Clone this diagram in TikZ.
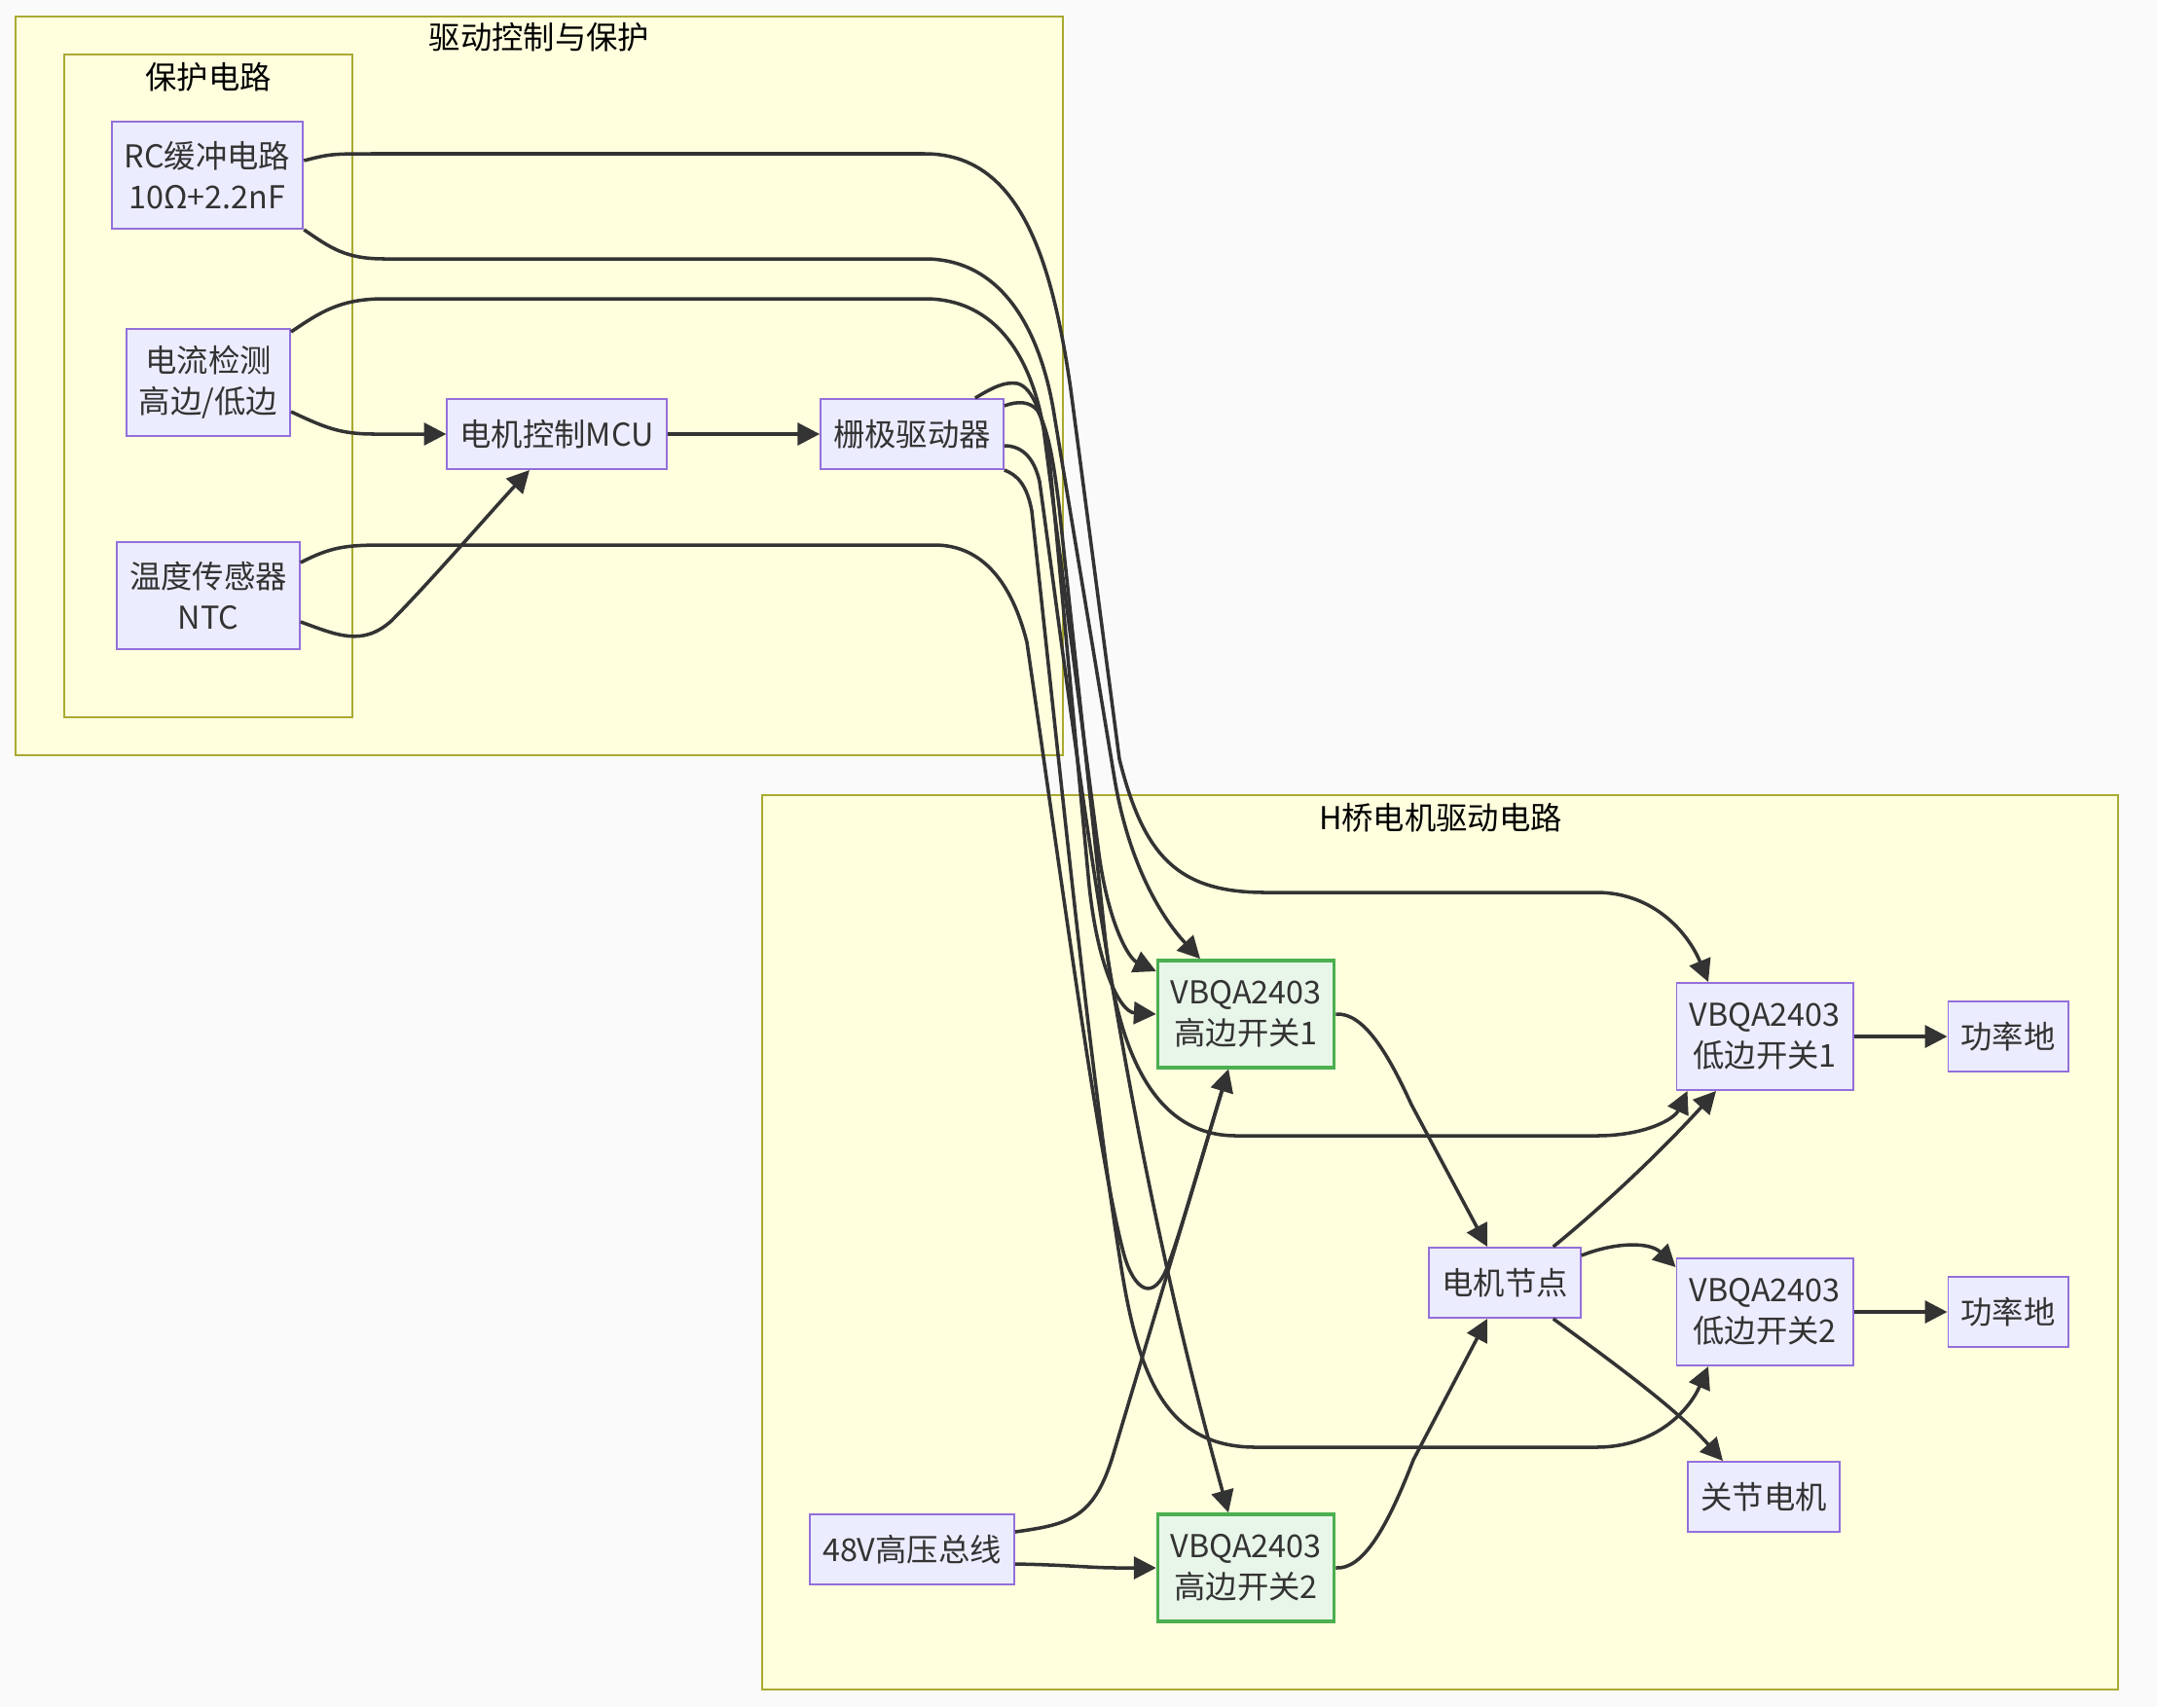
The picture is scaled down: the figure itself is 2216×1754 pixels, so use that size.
\documentclass[tikz,border=0pt]{standalone}
\usepackage{fontspec}
\setmainfont{Noto Sans CJK SC}
\usepackage{xcolor}
\usepackage{tikz}
\usetikzlibrary{arrows.meta, calc}

\definecolor{bgcol}{HTML}{FAFAFA}
\definecolor{clusterfill}{HTML}{FFFFDE}
\definecolor{clusterdraw}{HTML}{AAAA33}
\definecolor{nodefill}{HTML}{ECECFF}
\definecolor{nodedraw}{HTML}{9370DB}
\definecolor{hsfill}{HTML}{E8F5E9}
\definecolor{hsdraw}{HTML}{4CAF50}
\definecolor{linkcol}{HTML}{333333}

\begin{document}
\begin{tikzpicture}[x=0.01cm, y=-0.01cm,
    box/.style={draw=nodedraw, line width=0.55pt, fill=nodefill, align=center, font=\fontsize{9.2}{12}\selectfont, text=linkcol, inner xsep=0.13cm, minimum height=0.72cm},
    box_tall/.style={box, minimum height=1.1cm},
    hs_box/.style={box_tall, draw=hsdraw, fill=hsfill, line width=1pt},
    cluster/.style={draw=clusterdraw, line width=0.5pt, fill=clusterfill},
    cluster_title/.style={font=\fontsize{9.2}{12}\selectfont, text=black},
    link_line/.style={line width=1pt, draw=linkcol, -{Triangle[length=6.5pt, width=6.5pt]}}
]
    % Background and page size
    \fill[bgcol] (0,0) rectangle (2216,1754);
    \useasboundingbox (0,0) rectangle (2216,1754);

    % Subgraphs
    \draw[cluster] (16,17) rectangle (1092,776);
    \node (title_ctrl) [cluster_title] at (554,38) {驱动控制与保护};
    \draw[cluster] (66,56) rectangle (362,737);
    \node (title_prot) [cluster_title] at (214,79) {保护电路};
    \draw[cluster] (783,817) rectangle (2176,1736);
    \node (title_bridge) [cluster_title] at (1480,840) {H桥电机驱动电路};

    % Control and protection nodes
    \node (rc) [box_tall] at (213,180) {RC缓冲电路\\10Ω+2.2nF};
    \node (cs) [box_tall] at (214,393) {电流检测\\高边/低边};
    \node (temp) [box_tall] at (214,612) {温度传感器\\NTC};
    \node (mcu) [box] at (572,446) {电机控制MCU};
    \node (gate) [box] at (937,446) {栅极驱动器};

    % H-bridge nodes
    \node (bus) [box] at (937,1592) {48V高压总线};
    \node (hs1) [hs_box] at (1280,1042) {VBQA2403\\高边开关1};
    \node (hs2) [hs_box] at (1280,1611) {VBQA2403\\高边开关2};
    \node (mnode) [box] at (1546,1318) {电机节点};
    \node (ls1) [box_tall] at (1813,1065) {VBQA2403\\低边开关1};
    \node (ls2) [box_tall] at (1813,1348) {VBQA2403\\低边开关2};
    \node (gnd1) [box] at (2063,1065) {功率地};
    \node (gnd2) [box] at (2063,1348) {功率地};
    \node (motor) [box] at (1812,1538) {关节电机};

    % Control links
    \draw [link_line] ($(cs.east)+(0,30)$) .. controls (335,440) and (350,446) .. (385,446) -- (mcu.west);
    \draw [link_line] ($(temp.east)+(0,27)$) .. controls (345,652) and (372,665) .. (402,638) .. controls (440,600) and (505,525) .. ($(mcu.south)+(-28,0)$);
    \draw [link_line] (mcu.east) -- (gate.west);

    % Long links into the bridge
    \draw [link_line] ($(rc.east)+(0,-15)$) .. controls (340,158) .. (390,158) -- (950,158) .. controls (1045,158) and (1080,260) .. (1100,400) -- (1150,780) .. controls (1175,880) and (1210,917) .. (1300,917) -- (1640,917) .. controls (1700,917) and (1735,960) .. ($(ls1.north)+(-58,0)$);
    \draw [link_line] (rc.south east) .. controls (340,255) and (355,266) .. (395,266) -- (950,266) .. controls (1030,266) and (1068,340) .. (1082,420) -- (1145,800) .. controls (1160,890) and (1195,945) .. ($(hs1.north)+(-47,0)$);
    \draw [link_line] ($(cs.east)+(0,-52)$) .. controls (330,320) and (350,307) .. (395,307) -- (950,307) .. controls (1025,307) and (1060,370) .. (1072,440) -- (1128,870) .. controls (1138,950) and (1160,985) .. ($(hs1.west)+(0,-44)$);
    \draw [link_line] ($(temp.east)+(0,-34)$) .. controls (340,562) and (355,560) .. (395,560) -- (960,560) .. controls (1010,560) and (1040,600) .. (1055,660) .. controls (1090,900) and (1130,1200) .. (1155,1290) .. controls (1165,1325) and (1185,1340) .. (1200,1300) .. controls (1215,1260) and (1240,1170) .. ($(hs1.south)+(-18,0)$);
    \draw [link_line] ($(gate.north east)+(-30,0)$) .. controls (1020,398) and (1032,392) .. (1045,394) .. controls (1062,398) and (1072,430) .. (1078,470) -- (1118,900) .. controls (1126,990) and (1150,1040) .. (hs1.west);
    \draw [link_line] ($(gate.east)+(0,-29)$) .. controls (1045,412) and (1058,412) .. (1066,422) .. controls (1076,440) and (1082,470) .. (1088,520) -- (1135,960) .. controls (1148,1080) and (1185,1167) .. (1270,1167) -- (1640,1167) .. controls (1690,1167) and (1720,1150) .. ($(ls1.south west)+(12,0)$);
    \draw [link_line] ($(gate.east)+(0,12)$) .. controls (1048,458) and (1062,468) .. (1068,495) .. controls (1110,800) and (1150,1150) .. ($(hs2.north)+(-18,0)$);
    \draw [link_line] (gate.south east) .. controls (1045,488) and (1055,498) .. (1060,525) .. controls (1090,800) and (1120,1100) .. (1150,1290) .. controls (1168,1410) and (1195,1487) .. (1290,1487) -- (1640,1487) .. controls (1700,1487) and (1735,1450) .. ($(ls2.south)+(-58,0)$);

    % Bridge links
    \draw [link_line] ($(bus.east)+(0,-18)$) .. controls (1100,1566) and (1125,1560) .. (1145,1490) -- ($(hs1.south)+(-18,0)$);
    \draw [link_line] ($(bus.east)+(0,15)$) .. controls (1100,1608) and (1120,1611) .. (1150,1611) -- (hs2.west);
    \draw [link_line] (hs1.east) .. controls (1400,1040) and (1425,1080) .. (1450,1135) -- ($(mnode.north)+(-18,0)$);
    \draw [link_line] (hs2.east) .. controls (1400,1613) and (1425,1570) .. (1452,1500) -- ($(mnode.south)+(-18,0)$);
    \draw [link_line] ($(mnode.north east)+(-29,0)$) .. controls (1640,1245) and (1700,1190) .. ($(ls1.south)+(-50,0)$);
    \draw [link_line] ($(mnode.east)+(0,-28)$) .. controls (1660,1276) and (1695,1276) .. ($(ls2.west)+(0,-46)$);
    \draw [link_line] ($(mnode.south east)+(-29,0)$) .. controls (1650,1395) and (1720,1445) .. ($(motor.north)+(-42,0)$);
    \draw [link_line] (ls1.east) -- (gnd1.west);
    \draw [link_line] (ls2.east) -- (gnd2.west);
\end{tikzpicture}
\end{document}
